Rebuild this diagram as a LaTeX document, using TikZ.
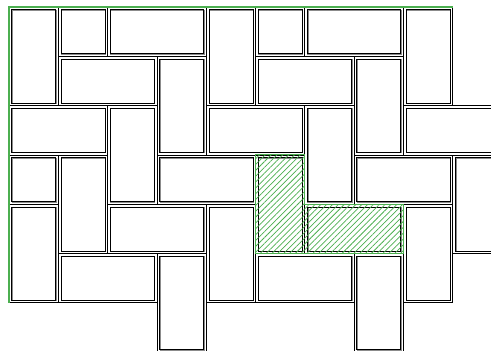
\documentclass[tikz,border=0pt]{standalone}
\usetikzlibrary{patterns.meta}
\definecolor{hgreen}{RGB}{76,175,80}
\tikzset{
  brickout/.style={draw=black, line width=0.55pt, fill=white},
  brickshade/.style={draw=black!45, line width=0.9pt},
  brickin/.style={draw=black, line width=0.45pt},
  hatchL/.style={draw=hgreen, line width=0.8pt,
    pattern={Lines[angle=45,distance=3.1pt,line width=0.55pt]}, pattern color=hgreen},
  frameline/.style={draw=hgreen, line width=0.9pt},
}
\newcommand{\brk}[4]{%
  \path[brickout] (#1,#2) rectangle ++(#3,#4);
  \path[brickshade] ({#1+0.066},{#2+0.066}) rectangle ({#1+#3-0.042},{#2+#4-0.042});
  \path[brickin] ({#1+0.053},{#2+0.053}) rectangle ({#1+#3-0.053},{#2+#4-0.053});
}
\begin{document}
\begin{tikzpicture}[x=0.75pt,y=-0.75pt]
\useasboundingbox (0,0) rectangle (491,350);
\clip (0,0) rectangle (491,350);
\begin{scope}[shift={(9,7)}, x=36.975pt, y=-36.975pt]
  % row 0
  \brk{0}{0}{1}{2}
  \brk{1}{0}{1}{1}
  \brk{2}{0}{2}{1}
  \brk{4}{0}{1}{2}
  \brk{5}{0}{1}{1}
  \brk{6}{0}{2}{1}
  \brk{8}{0}{1}{2}
  % row 1
  \brk{1}{1}{2}{1}
  \brk{3}{1}{1}{2}
  \brk{5}{1}{2}{1}
  \brk{7}{1}{1}{2}
  % row 2
  \brk{0}{2}{2}{1}
  \brk{2}{2}{1}{2}
  \brk{4}{2}{2}{1}
  \brk{6}{2}{1}{2}
  \brk{8}{2}{2}{1}
  % row 3
  \brk{0}{3}{1}{1}
  \brk{1}{3}{1}{2}
  \brk{3}{3}{2}{1}
  \brk{5}{3}{1}{2}
  \brk{7}{3}{2}{1}
  \brk{9}{3}{1}{2}
  % row 4
  \brk{0}{4}{1}{2}
  \brk{2}{4}{2}{1}
  \brk{4}{4}{1}{2}
  \brk{6}{4}{2}{1}
  \brk{8}{4}{1}{2}
  % row 5
  \brk{1}{5}{2}{1}
  \brk{3}{5}{1}{2}
  \brk{5}{5}{2}{1}
  \brk{7}{5}{1}{2}
  % green frame (top and left sides)
  \path[frameline] (0,6) -- (0,0) -- (9,0);
  % hatched L
  \path[hatchL] (5,3) -- (6,3) -- (6,4) -- (8,4) -- (8,5) -- (5,5) -- cycle;
\end{scope}
\end{tikzpicture}
\end{document}
